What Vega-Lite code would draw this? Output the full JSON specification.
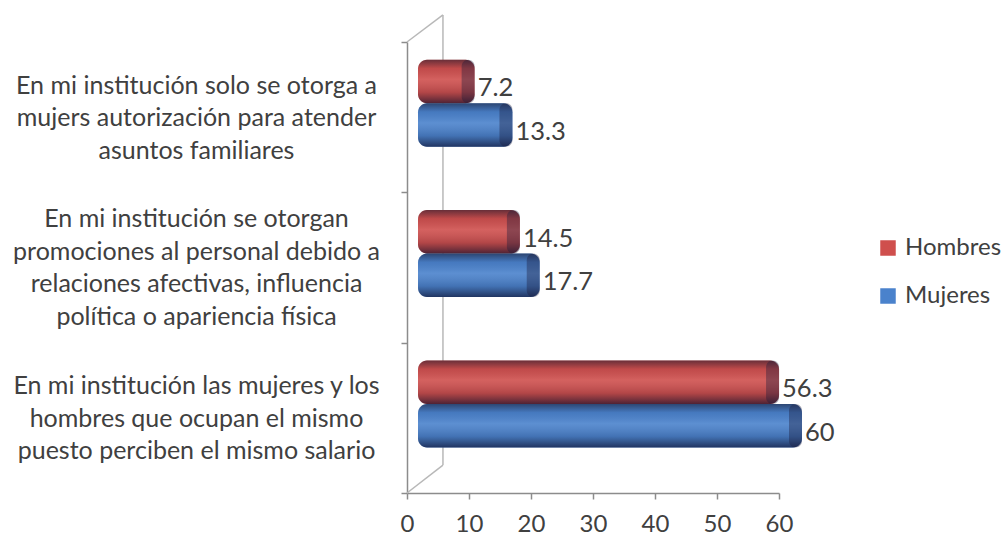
{
"$schema":"https://vega.github.io/schema/vega-lite/v6.json",
"autosize":{"type":"none"},
"padding":{"left":407,"top":42,"right":224,"bottom":44},
"width":372,"height":451,
"background":"white",
"config":{"view":{"stroke":null},"font":"Lato"},
"datasets":{
"bars":[
{"item":"En mi institución solo se otorga a|mujers autorización para atender|asuntos familiares","sexo":"Hombres","valor":7.2},
{"item":"En mi institución solo se otorga a|mujers autorización para atender|asuntos familiares","sexo":"Mujeres","valor":13.3},
{"item":"En mi institución se otorgan|promociones al personal debido a|relaciones afectivas, influencia|política o apariencia física","sexo":"Hombres","valor":14.5},
{"item":"En mi institución se otorgan|promociones al personal debido a|relaciones afectivas, influencia|política o apariencia física","sexo":"Mujeres","valor":17.7},
{"item":"En mi institución las mujeres y los|hombres que ocupan el mismo|puesto perciben el mismo salario","sexo":"Hombres","valor":56.3},
{"item":"En mi institución las mujeres y los|hombres que ocupan el mismo|puesto perciben el mismo salario","sexo":"Mujeres","valor":60}
],
"wall":[
{"x":0,"x2":5.8,"f":1,"f2":1.06},
{"x":5.8,"x2":5.8,"f":1.06,"f2":0.062},
{"x":0,"x2":5.8,"f":0,"f2":0.062}
]
},
"layer":[
{"data":{"name":"wall"},
"mark":{"type":"rule","color":"#b8b8b8","strokeWidth":1.5},
"encoding":{
"x":{"field":"x","type":"quantitative","scale":{"domain":[0,60]},"axis":{"values":[0,10,20,30,40,50,60],"grid":false,"title":null,"domainColor":"#8c8c8c","domainWidth":1.5,"tickColor":"#8c8c8c","tickWidth":1.5,"tickSize":6,"labelFontSize":24,"labelColor":"#404040","labelPadding":13,"labelFlush":false}},
"x2":{"field":"x2"},
"y":{"field":"f","type":"quantitative","scale":{"domain":[0,1]},"axis":null},
"y2":{"field":"f2"}
}},
{"data":{"name":"bars"},
"layer":[
{"mark":{"type":"bar","xOffset":23,"x2Offset":11,"cornerRadius":9},
"encoding":{
"x":{"field":"valor","type":"quantitative"},"x2":{"datum":0},
"color":{"field":"sexo","type":"nominal","scale":{"domain":["Hombres","Mujeres"],"range":["#cf4f4d","#4a82cc"]},
"legend":{"title":null,"orient":"none","legendX":469,"legendY":194,"symbolType":"square","symbolSize":240,"symbolStrokeWidth":0,"labelFontSize":24,"labelColor":"#404040","rowPadding":24,"labelOffset":5}}
}},
{"mark":{"type":"bar","xOffset":23,"x2Offset":11,"cornerRadius":9,
"fill":{"gradient":"linear","x1":0,"y1":0,"x2":0,"y2":1,"stops":[{"offset":0,"color":"rgba(20,20,40,0.55)"},{"offset":0.2,"color":"rgba(20,20,40,0.08)"},{"offset":0.45,"color":"rgba(255,255,255,0.1)"},{"offset":0.75,"color":"rgba(20,20,40,0.15)"},{"offset":1,"color":"rgba(10,10,40,0.65)"}]}},
"encoding":{"x":{"field":"valor","type":"quantitative"},"x2":{"datum":0}}},
{"mark":{"type":"bar","xOffset":23,"x2Offset":10,"cornerRadius":6.5,"fill":"#1a1a3a","opacity":0.38},
"encoding":{"x":{"field":"valor","type":"quantitative"},"x2":{"field":"valor"}}},
{"mark":{"type":"text","align":"left","baseline":"middle","dx":26,"dy":7,"fontSize":25.5,"color":"#404040"},
"encoding":{"x":{"field":"valor","type":"quantitative"},"text":{"field":"valor","type":"quantitative"}}}
],
"encoding":{
"y":{"field":"item","type":"nominal","sort":null,
"scale":{"paddingInner":0,"paddingOuter":0},
"axis":{"title":null,"grid":false,"tickBand":"extent","domainColor":"#8c8c8c","domainWidth":1.5,"tickColor":"#8c8c8c","tickWidth":1.5,"tickSize":6,"labelExpr":"split(datum.label,'|')","labelAlign":"center","labelBaseline":"middle","labelPadding":205,"labelFontSize":25,"labelLineHeight":32.5,"labelColor":"#404040","labelLimit":0,
"labelOffset":{"condition":{"test":"indexof(datum.label,'política')>=0","value":-49},"value":-32}}},
"yOffset":{"field":"sexo","type":"nominal","sort":["Hombres","Mujeres"],"scale":{"paddingInner":0,"paddingOuter":0.727,"align":0.28}}
}}
],
"resolve":{"scale":{"y":"independent"},"axis":{"y":"independent"}}
}
